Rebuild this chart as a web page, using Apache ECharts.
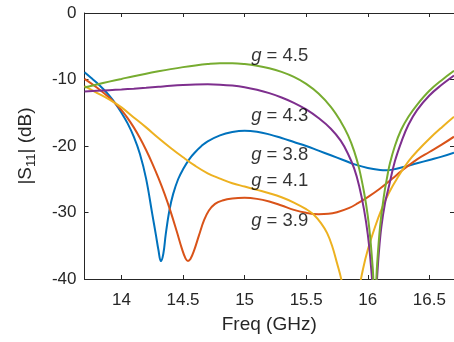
<!DOCTYPE html>
<html>
<head>
<meta charset="utf-8">
<script src="https://cdn.jsdelivr.net/npm/echarts@6/dist/echarts.min.js"></script>
<style>
html,body{margin:0;padding:0;background:#fff;}
#chart{width:454px;height:342px;}
</style>
</head>
<body>
<div id="chart"></div>
<script>
// ---- data ----
var xTicks = [14, 14.5, 15, 15.5, 16, 16.5];
var yTicks = [-40, -30, -20, -10, 0];

var g38 = [[13.70,-8.9],[13.75,-9.7],[13.80,-10.5],[13.85,-11.4],[13.90,-12.4],[13.95,-13.6],[14.00,-15.0],[14.05,-16.6],[14.10,-18.6],[14.15,-21.2],[14.20,-24.9],[14.25,-30.2],[14.28,-33.4],[14.30,-35.6],[14.32,-37.3],[14.34,-36.2],[14.36,-33.2],[14.39,-29.6],[14.42,-27.2],[14.46,-25.0],[14.50,-23.5],[14.55,-22.0],[14.60,-20.9],[14.65,-20.0],[14.70,-19.3],[14.80,-18.4],[14.90,-17.9],[15.00,-17.7],[15.10,-17.85],[15.20,-18.25],[15.30,-18.8],[15.40,-19.4],[15.50,-20.0],[15.60,-20.7],[15.70,-21.4],[15.80,-22.1],[15.90,-22.8],[16.00,-23.3],[16.10,-23.6],[16.15,-23.65],[16.20,-23.55],[16.30,-23.1],[16.40,-22.6],[16.50,-22.1],[16.60,-21.6],[16.70,-21.0]];

var g39 = [[13.70,-9.9],[13.80,-11.2],[13.90,-12.7],[13.95,-13.6],[14.00,-14.6],[14.05,-15.8],[14.10,-17.2],[14.15,-18.8],[14.20,-20.6],[14.25,-22.6],[14.30,-24.8],[14.35,-27.2],[14.40,-29.9],[14.45,-32.9],[14.49,-35.4],[14.52,-36.9],[14.54,-37.3],[14.56,-37.0],[14.59,-35.7],[14.63,-33.4],[14.67,-31.2],[14.71,-29.7],[14.76,-28.7],[14.82,-28.2],[14.90,-27.9],[15.00,-27.8],[15.10,-27.95],[15.20,-28.35],[15.30,-28.95],[15.40,-29.6],[15.50,-30.05],[15.60,-30.25],[15.68,-30.2],[15.75,-29.95],[15.85,-29.3],[15.92,-28.6],[16.00,-27.7],[16.10,-26.4],[16.20,-24.9],[16.27,-23.8],[16.40,-22.0],[16.50,-20.9],[16.60,-19.8],[16.70,-18.6]];

var g41 = [[13.70,-11.0],[13.80,-12.0],[13.90,-13.0],[14.00,-14.2],[14.10,-15.7],[14.20,-17.2],[14.30,-18.8],[14.40,-20.3],[14.50,-21.7],[14.60,-23.0],[14.70,-24.1],[14.80,-24.9],[14.90,-25.6],[15.00,-26.1],[15.10,-26.6],[15.20,-27.1],[15.30,-27.7],[15.40,-28.5],[15.50,-29.5],[15.56,-30.3],[15.62,-31.6],[15.67,-33.1],[15.71,-35.0],[15.75,-37.6],[15.79,-40.5],[15.84,-46.0],[15.89,-46.0],[15.93,-41.5],[15.96,-38.6],[16.00,-35.6],[16.06,-32.1],[16.11,-29.6],[16.17,-27.1],[16.25,-24.5],[16.33,-22.3],[16.41,-20.6],[16.50,-18.9],[16.60,-17.2],[16.70,-15.6]];

var g43 = [[13.70,-11.8],[13.80,-11.7],[13.90,-11.6],[14.00,-11.5],[14.10,-11.38],[14.20,-11.25],[14.30,-11.1],[14.40,-10.95],[14.50,-10.83],[14.60,-10.75],[14.70,-10.73],[14.80,-10.78],[14.90,-10.92],[15.00,-11.17],[15.10,-11.55],[15.20,-12.05],[15.30,-12.7],[15.40,-13.5],[15.50,-14.5],[15.60,-15.8],[15.70,-17.4],[15.78,-19.2],[15.84,-21.2],[15.89,-23.4],[15.93,-26.0],[15.97,-29.6],[16.00,-33.3],[16.02,-36.8],[16.04,-41.5],[16.05,-46.0],[16.065,-43.0],[16.075,-40.0],[16.09,-36.0],[16.11,-32.2],[16.14,-28.6],[16.17,-26.2],[16.22,-22.3],[16.28,-19.0],[16.33,-16.8],[16.40,-14.6],[16.50,-12.4],[16.60,-10.8],[16.70,-9.4]];

var g45 = [[13.70,-11.2],[13.80,-10.75],[13.90,-10.32],[14.00,-9.91],[14.10,-9.5],[14.20,-9.12],[14.30,-8.77],[14.40,-8.44],[14.50,-8.14],[14.60,-7.88],[14.70,-7.68],[14.80,-7.57],[14.90,-7.57],[15.00,-7.68],[15.10,-7.92],[15.20,-8.3],[15.30,-8.85],[15.40,-9.6],[15.50,-10.65],[15.60,-12.1],[15.70,-14.1],[15.78,-16.3],[15.84,-18.4],[15.89,-20.8],[15.93,-23.4],[15.97,-27.0],[16.00,-30.5],[16.02,-33.8],[16.04,-38.3],[16.055,-42.5],[16.065,-41.5],[16.075,-38.0],[16.10,-32.1],[16.13,-27.6],[16.16,-24.4],[16.18,-22.6],[16.22,-20.0],[16.27,-17.6],[16.33,-15.6],[16.40,-13.8],[16.50,-11.7],[16.60,-10.1],[16.70,-8.7]];

var labelTexts = ['4.5', '4.3', '3.8', '4.1', '3.9'];
var labelPos = [[15.053,-6.4],[15.053,-15.5],[15.053,-21.4],[15.053,-25.3],[15.053,-31.3]];

var colors = ['#0072BD', '#D95319', '#EDB120', '#7E2F8E', '#77AC30'];
var seriesData = [g38, g39, g41, g43, g45];

// ---- chart ----
var chart = echarts.init(document.getElementById('chart'), null, {renderer: 'canvas'});
var axisColor = '#262626';
var font = 'Liberation Sans, Arial, Helvetica, sans-serif';

function xAx(pos, showLabel) {
  return {
    type: 'value', position: pos, min: 13.7, max: 16.7,
    axisLine: {show: true, onZero: false, lineStyle: {color: axisColor, width: 1}},
    axisTick: {show: true, inside: true, length: 4, customValues: xTicks, lineStyle: {color: axisColor}},
    axisLabel: {show: showLabel, customValues: xTicks, color: axisColor, fontSize: 17, fontFamily: font, margin: 13},
    splitLine: {show: false},
    name: showLabel ? 'Freq (GHz)' : '', nameLocation: 'middle', nameGap: 36,
    nameTextStyle: {color: axisColor, fontSize: 19, fontFamily: font}
  };
}
function yAx(pos, showLabel) {
  return {
    type: 'value', position: pos, min: -40, max: 0, interval: 10,
    axisLine: {show: true, onZero: false, lineStyle: {color: axisColor, width: 1}},
    axisTick: {show: true, inside: true, length: 4, lineStyle: {color: axisColor}},
    axisLabel: {show: showLabel, color: axisColor, fontSize: 17, fontFamily: font, margin: 8},
    splitLine: {show: false},
    name: showLabel ? '{a||S}{s|11}{a|| (dB)}' : '', nameLocation: 'middle', nameGap: 47, nameRotate: 90,
    nameTextStyle: {color: axisColor, fontSize: 19, fontFamily: font,
      rich: {a: {fontSize: 19, fontFamily: font, color: axisColor},
             s: {fontSize: 13, fontFamily: font, color: axisColor, padding: [10, 0, 0, 0]}}}
  };
}

var series = seriesData.map(function (d, i) {
  return {
    type: 'line', data: d, xAxisIndex: 0, yAxisIndex: 0, showSymbol: false, symbol: 'none',
    smooth: 0.4, clip: true,
    lineStyle: {color: colors[i], width: 2}, itemStyle: {color: colors[i]}, z: 2 + i
  };
});
series.push({
  type: 'scatter', xAxisIndex: 0, yAxisIndex: 0, symbolSize: 0, z: 20,
  data: labelPos.map(function (p, i) { return {value: p, name: labelTexts[i]}; }),
  label: {show: true, position: 'right', distance: 0, color: '#000',
    formatter: function (p) { return '{i|g} = ' + p.name; },
    fontSize: 18.5, fontFamily: font,
    rich: {i: {fontStyle: 'italic', fontSize: 18.5, fontFamily: font, color: '#000'}}}
});

chart.setOption({
  animation: false,
  backgroundColor: '#fff',
  grid: {left: 84.5, top: 13, width: 371.5, height: 266, containLabel: false},
  xAxis: [xAx('bottom', true), xAx('top', false)],
  yAxis: [yAx('left', true), yAx('right', false)],
  series: series
});
</script>
</body>
</html>
